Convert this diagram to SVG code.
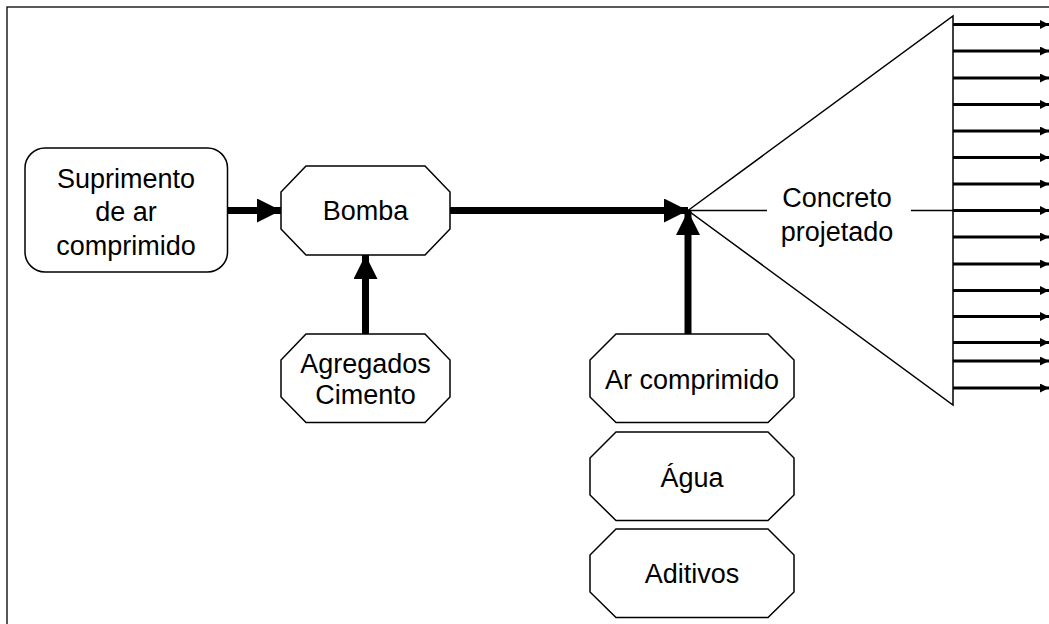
<svg xmlns="http://www.w3.org/2000/svg" width="1049" height="624" viewBox="0 0 1049 624">
<style>
.box{fill:#fff;stroke:#000;stroke-width:1.5}
.t{font-family:"Liberation Sans",Arial,sans-serif;font-size:27px;fill:#000;text-anchor:middle}
.thick{stroke:#000;stroke-width:7;fill:none}
.thin{stroke:#000;stroke-width:1.5;fill:none}
.out{stroke:#000;stroke-width:3;fill:none;marker-end:url(#sm)}
</style>
<defs>
<marker id="big" markerUnits="userSpaceOnUse" markerWidth="24" markerHeight="24" refX="24" refY="12" orient="auto">
<path d="M0,0 L24,12 L0,24 Z" fill="#000"/>
</marker>
<marker id="sm" markerUnits="userSpaceOnUse" markerWidth="9" markerHeight="9" refX="9" refY="4.5" orient="auto">
<path d="M0,0 L9,4.5 L0,9 Z" fill="#000"/>
</marker>
</defs>
<rect x="0" y="0" width="1049" height="624" fill="#fff"/>
<rect x="7" y="7" width="1060" height="640" fill="none" stroke="#000" stroke-width="1.3"/>

<g id="connectors">
<line class="thick" x1="227" y1="210.5" x2="281" y2="210.5" marker-end="url(#big)"/>
<line class="thick" x1="365.5" y1="334" x2="365.5" y2="255" marker-end="url(#big)"/>
<line class="thick" x1="450" y1="210.5" x2="688" y2="210.5" marker-end="url(#big)"/>
<line class="thick" x1="688" y1="334" x2="688" y2="211" marker-end="url(#big)"/>
<line class="thin" x1="688" y1="210.5" x2="767" y2="210.5"/>
<line class="thin" x1="911" y1="210.5" x2="953" y2="210.5"/>
<line class="out" x1="953" y1="24.5" x2="1049" y2="24.5"/>
<line class="out" x1="953" y1="51" x2="1049" y2="51"/>
<line class="out" x1="953" y1="78" x2="1049" y2="78"/>
<line class="out" x1="953" y1="104.5" x2="1049" y2="104.5"/>
<line class="out" x1="953" y1="131" x2="1049" y2="131"/>
<line class="out" x1="953" y1="157.5" x2="1049" y2="157.5"/>
<line class="out" x1="953" y1="184" x2="1049" y2="184"/>
<line class="out" x1="953" y1="210.5" x2="1049" y2="210.5"/>
<line class="out" x1="953" y1="237" x2="1049" y2="237"/>
<line class="out" x1="953" y1="264" x2="1049" y2="264"/>
<line class="out" x1="953" y1="290.5" x2="1049" y2="290.5"/>
<line class="out" x1="953" y1="316.5" x2="1049" y2="316.5"/>
<line class="out" x1="953" y1="342.5" x2="1049" y2="342.5"/>
<line class="out" x1="953" y1="361" x2="1049" y2="361"/>
<line class="out" x1="953" y1="388" x2="1049" y2="388"/>
</g>

<g id="suprimento">
<rect class="box" x="25" y="148" width="202.5" height="124" rx="20" ry="20"/>
<text class="t" x="126" y="188">Suprimento</text>
<text class="t" x="126" y="221">de ar</text>
<text class="t" x="126" y="255">comprimido</text>
</g>

<g id="bomba">
<polygon class="box" points="306,166 425,166 450,192 450,229 425,255 306,255 281,229 281,192"/>
<text class="t" x="365.5" y="220">Bomba</text>
</g>

<g id="agregados">
<polygon class="box" points="306,334 425,334 450,360 450,397 425,422.5 306,422.5 281,397 281,360"/>
<text class="t" x="365.5" y="373">Agregados</text>
<text class="t" x="365.5" y="404">Cimento</text>
</g>

<g id="ar-comprimido">
<polygon class="box" points="616,334 768,334 794,360 794,397 768,422.5 616,422.5 590,397 590,360"/>
<text class="t" x="692" y="389">Ar comprimido</text>
</g>

<g id="agua">
<polygon class="box" points="616,432 768,432 794,458 794,495 768,520.5 616,520.5 590,495 590,458"/>
<text class="t" x="692" y="487">Água</text>
</g>

<g id="aditivos">
<polygon class="box" points="616,529 768,529 794,555 794,592 768,617.5 616,617.5 590,592 590,555"/>
<text class="t" x="692" y="583">Aditivos</text>
</g>

<g id="concreto-projetado">
<polygon points="688,210.5 953,16 953,405" fill="none" stroke="#000" stroke-width="1.5"/>
<text class="t" x="837" y="207">Concreto</text>
<text class="t" x="837" y="241">projetado</text>
</g>
</svg>
